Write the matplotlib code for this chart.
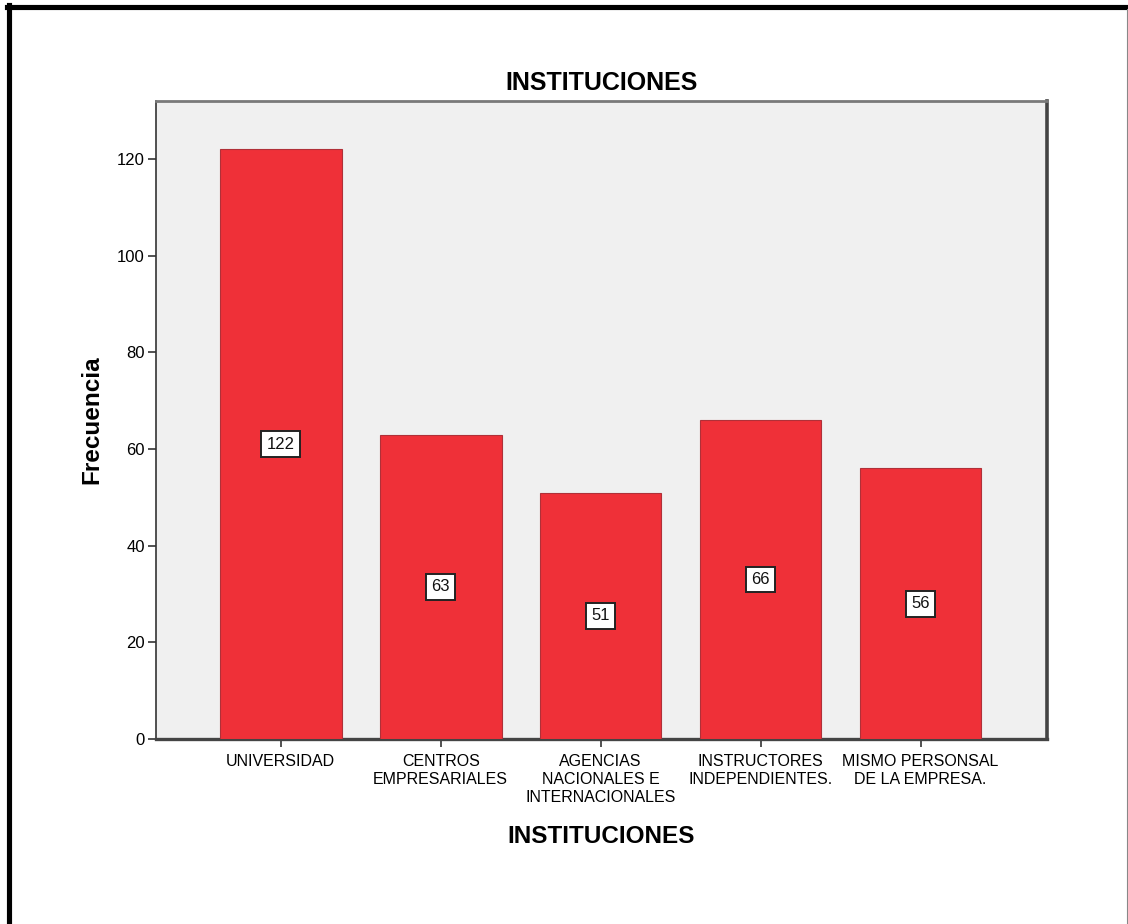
import matplotlib
matplotlib.use("Agg")
import matplotlib.pyplot as plt
from matplotlib.lines import Line2D

# data
CATEGORIES = [
    "UNIVERSIDAD",
    "CENTROS\nEMPRESARIALES",
    "AGENCIAS\nNACIONALES E\nINTERNACIONALES",
    "INSTRUCTORES\nINDEPENDIENTES.",
    "MISMO PERSONSAL\nDE LA EMPRESA.",
]
COUNTS = [122, 63, 51, 66, 56]
Y_TICKS = [0, 20, 40, 60, 80, 100, 120]

BAR_COLOR = "#EF3038"
BAR_EDGE = "#B03038"
PANEL = "#F0F0F0"

plt.rcParams.update({
    "font.family": ["Liberation Sans", "DejaVu Sans"],
    "font.size": 12,
})

fig = plt.figure(figsize=(11.28, 9.24), dpi=100)
ax = fig.add_axes([0.1383, 0.2002, 0.7899, 0.6905])
ax.set_facecolor(PANEL)

x = list(range(len(CATEGORIES)))
ax.bar(x, COUNTS, width=0.76, color=BAR_COLOR, edgecolor=BAR_EDGE,
       linewidth=0.8, zorder=3)

for xi, v in zip(x, COUNTS):
    ax.text(xi, v / 2, str(v), ha="center", va="center", fontsize=12,
            color="#111111", zorder=4,
            bbox=dict(boxstyle="square,pad=0.32", facecolor="white",
                      edgecolor="#222222", linewidth=1.4))

ax.set_xlim(-0.78, 4.79)
ax.set_ylim(0, 132)
ax.set_yticks(Y_TICKS)
ax.set_xticks(x)
ax.set_xticklabels(CATEGORIES, fontsize=11.5, linespacing=1.25)
ax.tick_params(axis="x", length=6, width=1.2, pad=5, color="#333333")
ax.tick_params(axis="y", length=6, width=1.2, pad=2, color="#333333",
               labelsize=12)

ax.set_title("INSTITUCIONES", fontsize=18, fontweight="bold", pad=8)
ax.set_xlabel("INSTITUCIONES", fontsize=17.5, fontweight="bold", labelpad=14)
ax.set_ylabel("Frecuencia", fontsize=17.5, fontweight="bold", labelpad=10)

ax.spines["left"].set_linewidth(1.2)
ax.spines["left"].set_color("#333333")
ax.spines["top"].set_linewidth(2.0)
ax.spines["top"].set_color("#7a7a7a")
ax.spines["right"].set_linewidth(2.6)
ax.spines["right"].set_color("#444444")
ax.spines["bottom"].set_linewidth(2.4)
ax.spines["bottom"].set_color("#444444")

# outer frame of the screenshot
fig.add_artist(Line2D([0.0084, 0.0084], [0, 0.9946], color="black",
                      linewidth=3.7, transform=fig.transFigure))
fig.add_artist(Line2D([0.0062, 1.0], [0.9919, 0.9919], color="black",
                      linewidth=3.7, transform=fig.transFigure))
fig.add_artist(Line2D([0.9993, 0.9993], [0, 0.99], color="#888888",
                      linewidth=0.8, transform=fig.transFigure))

fig.savefig("out.png", dpi=100, facecolor="white")
